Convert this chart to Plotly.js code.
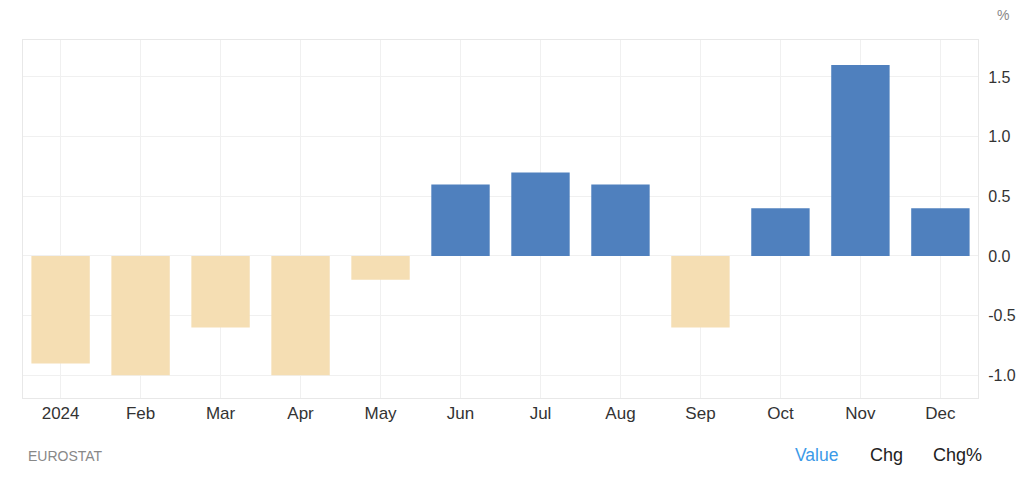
<!DOCTYPE html>
<html>
<head>
<meta charset="utf-8">
<script src="https://cdn.plot.ly/plotly-3.0.1.min.js"></script>
<style>
  html, body { margin: 0; padding: 0; background: #ffffff; }
  #chart { width: 1024px; height: 482px; }
</style>
</head>
<body>
<div id="chart"></div>
<script>
const months = ["2024", "Feb", "Mar", "Apr", "May", "Jun", "Jul", "Aug", "Sep", "Oct", "Nov", "Dec"];
const values = [-0.9, -1.0, -0.6, -1.0, -0.2, 0.6, 0.7, 0.6, -0.6, 0.4, 1.6, 0.4];
const yTicks = [-1.0, -0.5, 0.0, 0.5, 1.0, 1.5];
const yTickLabels = ["-1.0", "-0.5", "0.0", "0.5", "1.0", "1.5"];

const posColor = "#4f80be";
const negColor = "#f5deb3";
const idx = months.map((m, i) => i);

const trace = {
  type: "bar",
  x: idx,
  y: values,
  marker: { color: values.map(v => v >= 0 ? posColor : negColor), line: { width: 0 } },
  hoverinfo: "none"
};

const px = v => (v - 23) / 955;
const py = v => (398 - v) / 358;

const layout = {
  width: 1024,
  height: 482,
  margin: { l: 23, r: 46, t: 40, b: 84 },
  paper_bgcolor: "#ffffff",
  plot_bgcolor: "#ffffff",
  showlegend: false,
  bargap: 0.27,
  font: { family: "Liberation Sans, Arial, sans-serif", color: "#333333" },
  xaxis: {
    range: [-0.47, 11.47],
    tickvals: idx,
    ticktext: months,
    showgrid: true,
    gridcolor: "#f0f0f0",
    gridwidth: 1,
    zeroline: false,
    showline: true,
    linecolor: "#e8e8e8",
    mirror: true,
    ticks: "",
    ticklabelstandoff: 0,
    tickfont: { size: 17, color: "#333333" },
    fixedrange: true
  },
  yaxis: {
    side: "right",
    range: [-1.19, 1.81],
    tickvals: yTicks,
    ticktext: yTickLabels,
    showgrid: true,
    gridcolor: "#f0f0f0",
    gridwidth: 1,
    zeroline: false,
    showline: true,
    linecolor: "#e8e8e8",
    mirror: true,
    ticks: "",
    ticklabelstandoff: 6,
    tickfont: { size: 16, color: "#333333" },
    fixedrange: true
  },
  annotations: [
    { xref: "paper", yref: "paper", x: px(1011), y: py(15), xanchor: "right", yanchor: "middle",
      text: "%", showarrow: false, font: { size: 14, color: "#888888" } },
    { xref: "paper", yref: "paper", x: px(26), y: py(456), xanchor: "left", yanchor: "middle",
      text: "EUROSTAT", showarrow: false, font: { size: 14, color: "#888888" } },
    { xref: "paper", yref: "paper", x: px(793), y: py(455), xanchor: "left", yanchor: "middle",
      text: "Value", showarrow: false, font: { size: 17.5, color: "#3b9ae8" } },
    { xref: "paper", yref: "paper", x: px(868), y: py(455), xanchor: "left", yanchor: "middle",
      text: "Chg", showarrow: false, font: { size: 18, color: "#222222" } },
    { xref: "paper", yref: "paper", x: px(931), y: py(455), xanchor: "left", yanchor: "middle",
      text: "Chg%", showarrow: false, font: { size: 18, color: "#222222" } }
  ]
};

Plotly.newPlot("chart", [trace], layout, { displayModeBar: false, staticPlot: true });
</script>
</body>
</html>
